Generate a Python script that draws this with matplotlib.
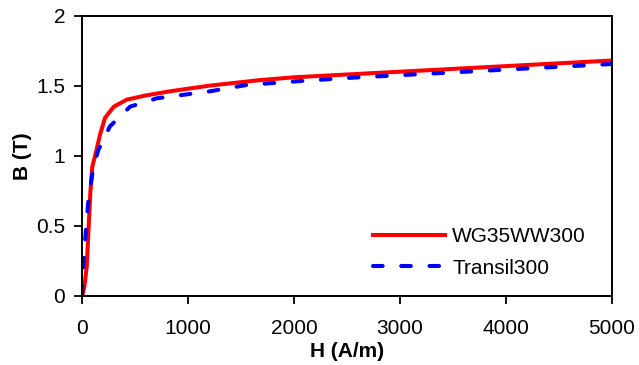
import matplotlib
matplotlib.use("Agg")
import matplotlib.pyplot as plt

plt.rcParams['font.family'] = ['Liberation Sans', 'DejaVu Sans']

# B-H curves
h_wg = [0, 10, 25, 45, 60, 80, 97, 130, 170, 217, 300, 421, 600, 830, 1200, 1679, 2000, 2500, 3000, 3500, 4000, 4500, 5000]
b_wg = [0, 0.02, 0.08, 0.21, 0.45, 0.75, 0.92, 1.02, 1.15, 1.27, 1.35, 1.40, 1.43, 1.46, 1.50, 1.54, 1.56, 1.58, 1.60, 1.62, 1.64, 1.66, 1.68]

h_tr = [0, 12, 35, 60, 107, 154, 264, 453, 705, 1208, 1553, 2000, 2500, 3000, 3500, 4000, 4500, 5000]
b_tr = [0, 0.21, 0.45, 0.68, 0.92, 1.04, 1.21, 1.35, 1.41, 1.46, 1.505, 1.53, 1.555, 1.575, 1.595, 1.615, 1.635, 1.655]

x_ticks = [0, 1000, 2000, 3000, 4000, 5000]
y_ticks = [0, 0.5, 1, 1.5, 2]
y_labels = ['0', '0.5', '1', '1.5', '2']

fs = 15

fig = plt.figure(figsize=(6.39, 3.65), dpi=100)
ax = fig.add_axes([82 / 639, 1 - 295.7 / 365, 530 / 639, 280 / 365])

ax.plot(h_wg, b_wg, color='#ff0000', lw=2.9, label='WG35WW300')
ax.plot(h_tr, b_tr, color='#0000ff', lw=2.9, ls=(0, (2.4, 4.6)),
        dash_capstyle='round', label='Transil300')

ax.set_xlim(0, 5000)
ax.set_ylim(0, 2)
ax.set_xticks(x_ticks)
ax.set_yticks(y_ticks)
ax.set_yticklabels(y_labels)
ax.tick_params(direction='out', length=6, width=1.3, labelsize=fs, colors='black')
ax.tick_params(axis='x', pad=11)
ax.tick_params(axis='y', pad=6)
for s in ax.spines.values():
    s.set_linewidth(1.4)

ax.set_xlabel('H (A/m)', fontsize=fs, fontweight='bold', labelpad=3)
ax.set_ylabel('B (T)', fontsize=fs, fontweight='bold', labelpad=3)

ax.legend(loc='center left', frameon=False, fontsize=fs, handlelength=3.45,
          bbox_to_anchor=(373 / 639, 1 - 252.5 / 365), bbox_transform=fig.transFigure,
          borderpad=0, borderaxespad=0, labelspacing=0.6, handletextpad=0.35)

fig.savefig('out.png', dpi=100)
